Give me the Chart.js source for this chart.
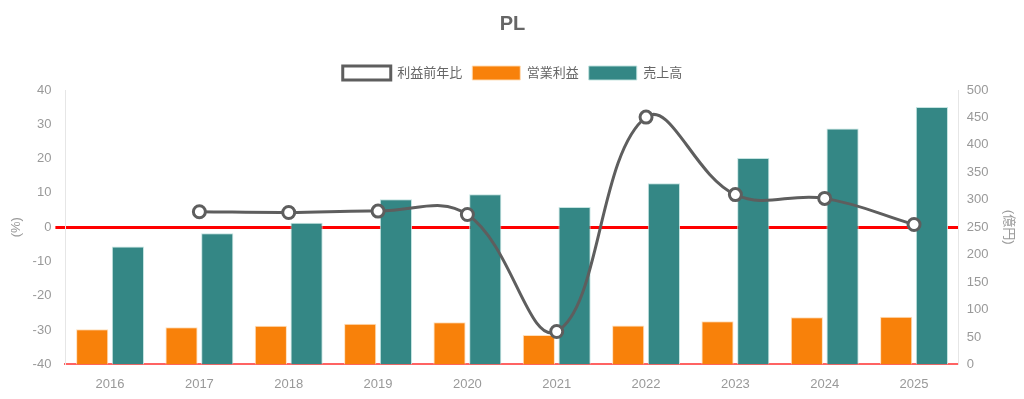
<!DOCTYPE html>
<html>
<head>
<meta charset="utf-8">
<script src="https://cdn.jsdelivr.net/npm/chart.js@4/dist/chart.umd.min.js"></script>
<style>
html,body{margin:0;padding:0;background:#fff;}
#wrap{width:1024px;height:399px;}
</style>
</head>
<body>
<div id="wrap"><canvas id="c" width="1024" height="399"></canvas></div>
<script>
const categories = ['2016','2017','2018','2019','2020','2021','2022','2023','2024','2025'];
const profitYoY = [null, 4.5, 4.3, 4.7, 3.7, -30.4, 32.1, 9.5, 8.4, 0.8];
const operatingProfit = [64, 67.5, 70.6, 74, 77, 53.5, 71, 78.5, 86, 87];
const sales = [215, 239, 258, 301, 310, 287, 330, 376, 430, 469];
const seriesNames = ['利益前年比', '営業利益', '売上高'];
const chartTitle = 'PL';
const leftAxisTitle = '(%)';
const rightAxisTitle = '(億円)';

const FONT = "'Liberation Sans', Arial, 'Noto Sans CJK JP', sans-serif";
Chart.defaults.font.family = FONT;

new Chart(document.getElementById('c'), {
  data: {
    labels: categories,
    datasets: [
      {
        type: 'line', label: seriesNames[0], data: profitYoY, yAxisID: 'y',
        borderColor: '#5e5e5e', backgroundColor: '#ffffff', borderWidth: 3,
        tension: 0.4, pointRadius: 6, pointBorderWidth: 3,
        pointBackgroundColor: '#ffffff', pointBorderColor: '#5e5e5e'
      },
      {
        type: 'bar', label: seriesNames[1], data: operatingProfit, yAxisID: 'y1',
        backgroundColor: '#f8810a', borderColor: 'rgba(255,220,180,0.9)', borderWidth: 1
      },
      {
        type: 'bar', label: seriesNames[2], data: sales, yAxisID: 'y1',
        backgroundColor: '#348785', borderColor: 'rgba(190,225,222,0.9)', borderWidth: 1
      }
    ]
  },
  options: {
    responsive: false,
    animation: false,
    layout: { padding: { left: 5, right: 4, top: 8, bottom: -5 } },
    plugins: {
      title: { display: true, text: chartTitle, color: '#666', font: { size: 20, weight: 'bold', family: FONT }, padding: { top: 4, bottom: 20 } },
      legend: {
        labels: { color: '#666', boxWidth: 48, boxHeight: 14, font: { size: 13, family: FONT }, padding: 10 }
      },
      tooltip: { enabled: false }
    },
    scales: {
      x: {
        grid: { display: false, drawTicks: false },
        border: { display: true, color: 'rgba(255,60,60,0.8)', width: 2 },
        ticks: { color: '#999', font: { size: 13 }, padding: 12 }
      },
      y: {
        position: 'left', min: -40, max: 40,
        ticks: { stepSize: 10, color: '#999', font: { size: 13 }, padding: 4 },
        grid: {
          color: (ctx) => (ctx.tick && ctx.tick.value === 0) ? '#ff0000' : 'rgba(0,0,0,0)',
          lineWidth: (ctx) => (ctx.tick && ctx.tick.value === 0) ? 3 : 1,
          tickLength: 10
        },
        border: { color: '#e6e6e6', width: 1 },
        title: { display: true, text: leftAxisTitle, color: '#999', font: { size: 13 } }
      },
      y1: {
        position: 'right', min: 0, max: 500,
        ticks: { stepSize: 50, color: '#999', font: { size: 13 }, padding: 8 },
        grid: { display: false, drawTicks: false },
        border: { color: '#e6e6e6', width: 1 },
        title: { display: true, text: rightAxisTitle, color: '#999', font: { size: 13 } }
      }
    }
  }
});
</script>
</body>
</html>
